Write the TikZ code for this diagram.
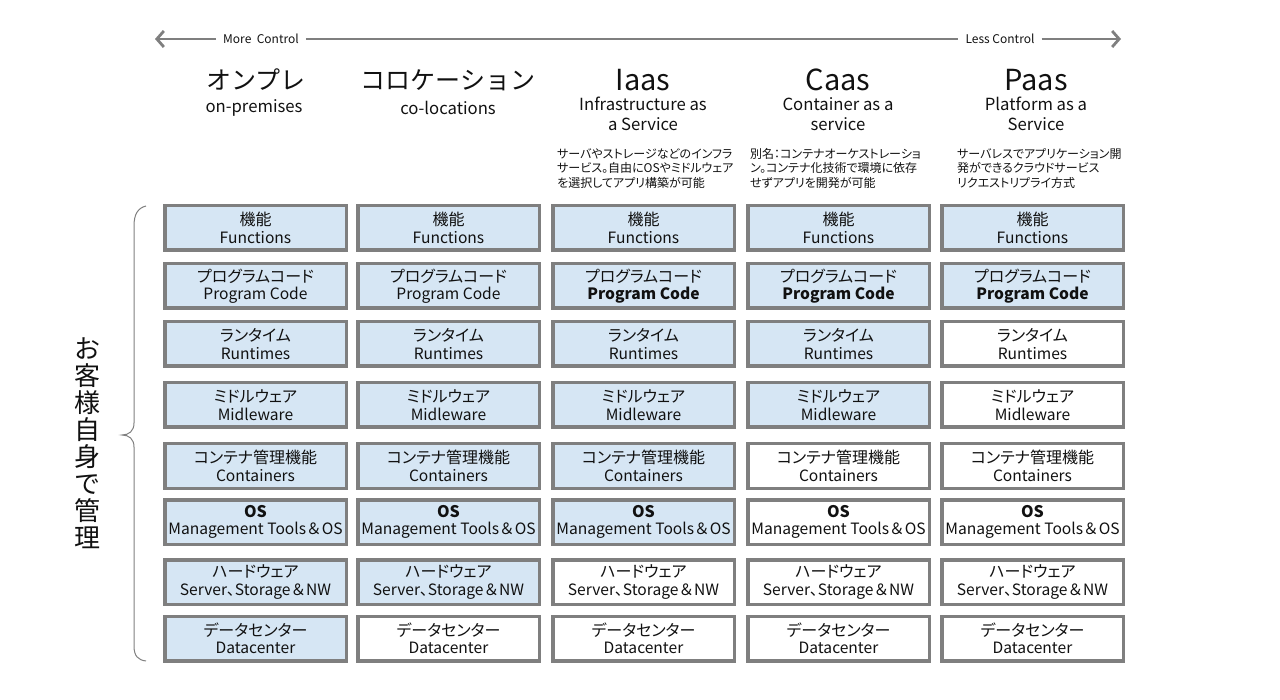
\documentclass[tikz,border=0pt]{standalone}
\usepackage{fontspec}
\setmainfont{Noto Sans CJK JP}
\newfontfamily\jpp[RawFeature=+palt]{Noto Sans CJK JP}
\usetikzlibrary{arrows.meta}
\definecolor{boxblue}{HTML}{D6E6F4}
\definecolor{bordergray}{HTML}{7F7F7F}
\definecolor{txt}{HTML}{111111}
\newcommand\pcode{\ifnum\ci>2 \textbf{Program Code}\else Program Code\fi}
\newcommand\amp{{\normalfont ＆}}
\begin{document}
\begin{tikzpicture}[x=1pt,y=-1pt,
  box/.style={draw=bordergray,line width=3.5pt,minimum width=181.5pt,minimum height=44.5pt,
     inner sep=0pt,align=center,text=txt,font=\jpp\fontsize{15.6}{17.5}\selectfont},
  hd/.style={font=\fontsize{25}{30}\selectfont,text=txt,inner sep=0pt},
  hdl/.style={font=\fontsize{29}{30}\selectfont,text=txt,inner sep=0pt},
  sub/.style={font=\fontsize{16.7}{20}\selectfont,text=txt,align=center,inner sep=0pt},
  desc/.style={font=\jpp\fontsize{12}{14.5}\selectfont,text=txt,align=left,anchor=north west,inner sep=0pt},
  toptxt/.style={font=\fontsize{12}{13}\selectfont,text=txt,inner xsep=7pt,inner ysep=0pt},
  arrline/.style={draw=bordergray,line width=2.8pt},
  arr/.style={arrline,-{Straight Barb[length=7pt,width=16pt]}},
  brace/.style={draw=bordergray,line width=1pt},
  vt/.style={font=\fontsize{26}{27}\selectfont,text=txt,align=center,inner sep=0pt}
]
\useasboundingbox (0,0) rectangle (1280,700);

% top arrow
\coordinate (al) at (155,39);
\coordinate (ar) at (1121,39);
\node[toptxt] (mc) at (261,39) {More\ \ Control};
\node[toptxt] (lc) at (1000,39) {Less Control};
\draw[arr] (mc.west) -- (al);
\draw[arr] (lc.east) -- (ar);
\draw[arrline] (mc.east) -- (lc.west);

% headers
\node[hd] (h1) at (256,80) {オンプレ};
\node[hd] (h2) at (448,80) {コロケーション};
\node[hdl] (h3) at (643,80) {Iaas};
\node[hdl] (h4) at (838,80) {Caas};
\node[hdl] (h5) at (1036,80) {Paas};
\node[sub] (s1) at (254,108) {on-premises};
\node[sub] (s2) at (448,108) {co-locations};
\node[sub] (s3) at (643,114) {Infrastructure as\\a Service};
\node[sub] (s4) at (838,114) {Container as a\\service};
\node[sub] (s5) at (1036,114) {Platform as a\\Service};

% descriptions
\node[desc] (d3) at (557,148) {サーバやストレージなどのインフラ\\サービス。自由にOSやミドルウェア\\を選択してアプリ構築が可能};
\node[desc] (d4) at (750,148) {別名：コンテナオーケストレーショ\\ン。コンテナ化技術で環境に依存\\せずアプリを開発が可能};
\node[desc] (d5) at (957,148) {サーバレスでアプリケーション開\\発ができるクラウドサービス\\リクエストリプライ方式};

% boxes
\foreach \ci/\cx/\nb in {1/255.5/8,2/448.5/7,3/643.5/6,4/838.5/4,5/1032.5/2}{
  \foreach \r/\ry/\jt/\et in {1/228/機能/Functions,
      2/286/プログラムコード/\pcode,
      3/344/ランタイム/Runtimes,
      4/405/ミドルウェア/Midleware,
      5/466/コンテナ管理機能/Containers,
      6/522/{\bfseries OS}/Management Tools\amp OS,
      7/582/ハードウェア/Server、Storage\amp NW,
      8/638.5/データセンター/Datacenter}{
    \ifnum\r>\nb\relax \def\fc{white}\else \def\fc{boxblue}\fi
    \node[box,fill=\fc] (c\ci r\r) at (\cx,\ry) {{\fontsize{16}{17.5}\selectfont\jt}\\\et};
  }
}

% brace
\draw[brace] (146,206) .. controls (138,208) and (134,214) .. (134,226) -- (134,423)
  .. controls (134,431) and (129,435) .. (122,435)
  .. controls (129,435) and (134,439) .. (134,447) -- (134,646)
  .. controls (134,656) and (138,660) .. (146,661);

% vertical label
\node[vt] (vl) at (87,443) {お\\客\\様\\自\\身\\で\\管\\理};
\end{tikzpicture}
\end{document}
